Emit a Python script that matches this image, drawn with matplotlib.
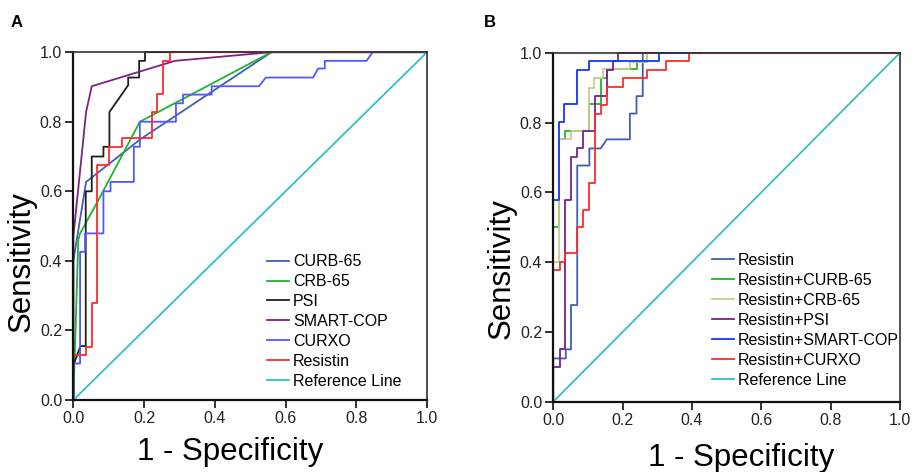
import matplotlib
matplotlib.use('Agg')
import matplotlib.pyplot as plt

plt.rcParams['font.family'] = ['Liberation Sans', 'DejaVu Sans']

# ---- panel A: single predictors (fpr, tpr) ----
curb65_x = [0, 0, 0.036, 0.19, 0.56, 1.0]
curb65_y = [0, 0.40, 0.627, 0.75, 1.0, 1.0]

crb65_x = [0, 0.014, 0.019, 0.071, 0.188, 0.56, 1.0]
crb65_y = [0, 0.46, 0.479, 0.575, 0.80, 1.0, 1.0]

psi_x = [0, 0, 0.02, 0.035, 0.035, 0.052, 0.052, 0.085, 0.085, 0.102, 0.102,
         0.155, 0.155, 0.186, 0.186, 0.2025, 0.2025, 1.0]
psi_y = [0, 0.10, 0.155, 0.155, 0.60, 0.60, 0.70, 0.70, 0.728, 0.728, 0.828,
         0.905, 0.927, 0.927, 0.975, 0.975, 1.0, 1.0]

smartcop_x = [0, 0, 0.036, 0.052, 0.287, 0.56, 1.0]
smartcop_y = [0, 0.47, 0.828, 0.902, 0.975, 1.0, 1.0]

curxo_x = [0, 0, 0.019, 0.019, 0.033, 0.033, 0.085, 0.085, 0.105, 0.105, 0.171,
           0.171, 0.188, 0.188, 0.29, 0.29, 0.31, 0.31, 0.391, 0.391, 0.525,
           0.544, 0.678, 0.692, 0.711, 0.711, 0.829, 0.846, 1.0]
curxo_y = [0, 0.105, 0.105, 0.426, 0.426, 0.479, 0.479, 0.60, 0.60, 0.627, 0.627,
           0.728, 0.728, 0.80, 0.80, 0.853, 0.853, 0.878, 0.878, 0.902, 0.902,
           0.927, 0.927, 0.953, 0.953, 0.975, 0.975, 1.0, 1.0]

resistin_a_x = [0, 0, 0.036, 0.036, 0.052, 0.052, 0.068, 0.068, 0.102, 0.102,
                0.137, 0.137, 0.221, 0.221, 0.237, 0.237, 0.254, 0.254, 0.273,
                0.273, 1.0]
resistin_a_y = [0, 0.129, 0.129, 0.153, 0.153, 0.278, 0.278, 0.677, 0.677, 0.728,
                0.728, 0.752, 0.752, 0.828, 0.828, 0.879, 0.879, 0.975, 0.975,
                1.0, 1.0]

# ---- panel B: resistin combinations ----
resistin_b_x = [0, 0, 0.036, 0.036, 0.051, 0.051, 0.069, 0.069, 0.104, 0.104,
                0.137, 0.154, 0.221, 0.221, 0.240, 0.240, 0.258, 0.258, 1.0]
resistin_b_y = [0, 0.124, 0.124, 0.15, 0.15, 0.277, 0.277, 0.677, 0.677, 0.726,
                0.726, 0.752, 0.752, 0.826, 0.826, 0.876, 0.876, 1.0, 1.0]

r_curb65_x = [0, 0, 0.015, 0.015, 0.033, 0.033, 0.104, 0.104, 0.137, 0.137,
              0.154, 0.154, 0.24, 0.24, 0.271, 0.271, 1.0]
r_curb65_y = [0, 0.502, 0.502, 0.752, 0.752, 0.777, 0.777, 0.852, 0.852, 0.927,
              0.927, 0.955, 0.955, 0.974, 0.974, 1.0, 1.0]

r_crb65_x = [0, 0, 0.016, 0.016, 0.05, 0.05, 0.104, 0.104, 0.117, 0.117, 0.144,
             0.144, 0.221, 0.221, 0.271, 0.271, 1.0]
r_crb65_y = [0, 0.401, 0.401, 0.752, 0.752, 0.777, 0.777, 0.898, 0.898, 0.927,
             0.927, 0.955, 0.955, 0.974, 0.974, 1.0, 1.0]

r_psi_x = [0, 0, 0.019, 0.019, 0.034, 0.034, 0.05, 0.05, 0.067, 0.067, 0.085,
           0.085, 0.12, 0.12, 0.154, 0.154, 0.171, 0.171, 0.188, 0.188, 1.0]
r_psi_y = [0, 0.10, 0.10, 0.15, 0.15, 0.578, 0.578, 0.702, 0.702, 0.726, 0.726,
           0.777, 0.777, 0.876, 0.876, 0.95, 0.95, 0.976, 0.976, 1.0, 1.0]

r_smartcop_x = [0, 0, 0.015, 0.015, 0.031, 0.031, 0.067, 0.067, 0.104, 0.104,
                0.306, 0.306, 1.0]
r_smartcop_y = [0, 0.577, 0.577, 0.802, 0.802, 0.852, 0.852, 0.95, 0.95, 0.976,
                0.976, 1.0, 1.0]

r_curxo_x = [0, 0, 0.019, 0.019, 0.035, 0.035, 0.068, 0.068, 0.085, 0.085, 0.102,
             0.102, 0.12, 0.12, 0.137, 0.137, 0.154, 0.154, 0.202, 0.202, 0.271,
             0.271, 0.325, 0.325, 0.392, 0.392, 1.0]
r_curxo_y = [0, 0.377, 0.377, 0.401, 0.401, 0.426, 0.426, 0.502, 0.502, 0.55, 0.55,
             0.626, 0.626, 0.824, 0.824, 0.85, 0.85, 0.901, 0.901, 0.927, 0.927,
             0.95, 0.95, 0.976, 0.976, 1.0, 1.0]

ref_x = [0, 1]
ref_y = [0, 1]

labels_a = ['CURB-65', 'CRB-65', 'PSI', 'SMART-COP', 'CURXO', 'Resistin', 'Reference Line']
labels_b = ['Resistin', 'Resistin+CURB-65', 'Resistin+CRB-65', 'Resistin+PSI',
            'Resistin+SMART-COP', 'Resistin+CURXO', 'Reference Line']
ticks = [0.0, 0.2, 0.4, 0.6, 0.8, 1.0]

C_DARKBLUE = '#3f5fb3'
C_GREEN = '#1fb52a'
C_BLACK = '#1e1e1e'
C_PURPLE = '#7b2287'
C_LIGHTBLUE = '#5257ff'
C_RED = '#ff2b2b'
C_KHAKI = '#c9c98d'
C_BLUE = '#1236ff'
C_CYAN = '#2fc0c4'

curves_a = [
    (curb65_x, curb65_y, C_DARKBLUE),
    (crb65_x, crb65_y, C_GREEN),
    (psi_x, psi_y, C_BLACK),
    (smartcop_x, smartcop_y, C_PURPLE),
    (curxo_x, curxo_y, C_LIGHTBLUE),
    (resistin_a_x, resistin_a_y, C_RED),
    (ref_x, ref_y, C_CYAN),
]
curves_b = [
    (resistin_b_x, resistin_b_y, C_DARKBLUE),
    (r_curb65_x, r_curb65_y, C_GREEN),
    (r_crb65_x, r_crb65_y, C_KHAKI),
    (r_psi_x, r_psi_y, C_PURPLE),
    (r_smartcop_x, r_smartcop_y, C_BLUE),
    (r_curxo_x, r_curxo_y, C_RED),
    (ref_x, ref_y, C_CYAN),
]

fig = plt.figure(figsize=(9.17, 4.72), dpi=100)
ax_a = fig.add_axes([0.080, 0.1525, 0.3857, 0.737])
ax_b = fig.add_axes([0.6034, 0.149, 0.378, 0.739])


def draw_panel(ax, curves, labels, leg_anchor, xlab_pos, ylab_pos, xpad):
    for (x, y, c), lab in zip(curves, labels):
        ax.plot(x, y, color=c, lw=1.3, label=lab, clip_on=False, zorder=2)
    ax.set_xlim(0, 1)
    ax.set_ylim(0, 1)
    ax.set_xticks(ticks)
    ax.set_yticks(ticks)
    ax.set_xticklabels(['%.1f' % t for t in ticks])
    ax.set_yticklabels(['%.1f' % t for t in ticks])
    ax.tick_params(direction='out', length=6, width=1.3, labelsize=11.5,
                   colors='#222222', pad=2)
    for side in ['left', 'bottom']:
        ax.spines[side].set_linewidth(1.6)
        ax.spines[side].set_color('#111111')
        ax.spines[side].set_zorder(3)
    for side in ['top', 'right']:
        ax.spines[side].set_linewidth(1.2)
        ax.spines[side].set_color('#333333')
        ax.spines[side].set_zorder(3)
    ax.set_xlabel('1 - Specificity', fontsize=22.5, labelpad=xpad, x=xlab_pos)
    ax.set_ylabel('Sensitivity', fontsize=22.5, labelpad=2, y=ylab_pos)
    ax.legend(loc='lower left', bbox_to_anchor=leg_anchor, frameon=False,
              fontsize=11.5, handlelength=1.4, handletextpad=0.25,
              labelspacing=0.31, borderpad=0, borderaxespad=0)


draw_panel(ax_a, curves_a, labels_a, (0.547, 0.032), 0.443, 0.397, 8)
draw_panel(ax_b, curves_b, labels_b, (0.457, 0.040), 0.541, 0.383, 11)

fig.text(0.011, 0.953, 'A', fontsize=12, fontweight='bold', va='center')
fig.text(0.528, 0.953, 'B', fontsize=12, fontweight='bold', va='center')

fig.savefig('out.png', dpi=100)
